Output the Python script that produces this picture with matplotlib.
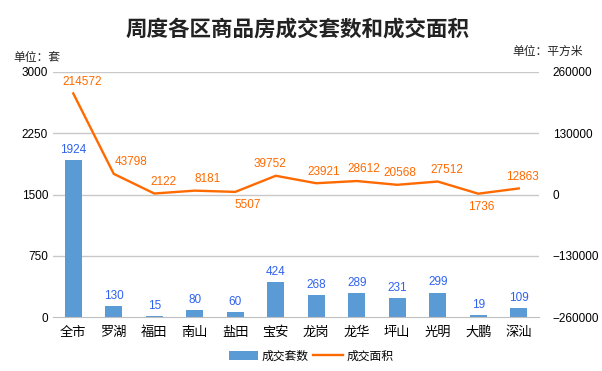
import matplotlib
matplotlib.use("Agg")
import matplotlib.pyplot as plt
import numpy as np

plt.rcParams['font.family'] = ['Liberation Sans', 'Noto Sans CJK SC', 'DejaVu Sans']

categories = ["全市", "罗湖", "福田", "南山", "盐田", "宝安", "龙岗", "龙华", "坪山", "光明", "大鹏", "深汕"]
units = [1924, 130, 15, 80, 60, 424, 268, 289, 231, 299, 19, 109]
area = [214572, 43798, 2122, 8181, 5507, 39752, 23921, 28612, 20568, 27512, 1736, 12863]
left_ticks = [0, 750, 1500, 2250, 3000]
right_ticks = [-260000, -130000, 0, 130000, 260000]

# label placement (styling): horizontal nudge in pixels, and whether label sits below the point
label_dx_px = [9, 17, 9, 13, 12, -6, 7, 7, 3, 9, 3, 4]
label_below = [False, False, False, False, True, False, False, False, False, False, True, False]

fig = plt.figure(figsize=(6.02, 3.71), dpi=100)
ax = fig.add_axes([53/602, 1-317/371, 486/602, 245/371])
x = np.arange(len(categories))
bar_color = "#5B9BD5"
line_color = "#FF6A00"

ax.bar(x, units, width=0.42, color=bar_color, zorder=2, label="成交套数")
ax.set_ylim(0, 3000)
ax.set_xlim(-0.5, len(categories) - 0.5)
ax.set_yticks(left_ticks)
ax.set_xticks(x)
ax.set_xticklabels(categories, fontsize=9.5, family=['Noto Sans CJK SC'])
ax.tick_params(axis='both', length=0, labelsize=8.5)
ax.tick_params(axis='x', pad=6.5, labelsize=9.5)
for t in left_ticks[1:]:
    ax.axhline(t, color="#C8C8C8", lw=1, zorder=0)
for s in ["top", "right", "left"]:
    ax.spines[s].set_visible(False)
ax.spines["bottom"].set_color("#BFBFBF")

for xi, v in zip(x, units):
    ax.annotate(str(v), (xi, v), xytext=(0, 3), textcoords="offset points",
                ha="center", va="bottom", fontsize=8.5, color="#2F62F0")

ax2 = ax.twinx()
ax2.plot(x, area, color=line_color, lw=1.7, zorder=3, label="成交面积")
ax2.set_ylim(-260000, 260000)
ax2.set_yticks(right_ticks)
ax2.tick_params(axis='y', length=0, labelsize=8.5, pad=10)
for s in ["top", "right", "left", "bottom"]:
    ax2.spines[s].set_visible(False)
for xi, v, b, dx in zip(x, area, label_below, label_dx_px):
    dxp = dx * 0.72
    if b:
        ax2.annotate(str(v), (xi, v), xytext=(dxp, -5), textcoords="offset points",
                     ha="center", va="top", fontsize=8.5, color=line_color)
    else:
        ax2.annotate(str(v), (xi, v), xytext=(dxp, 4), textcoords="offset points",
                     ha="center", va="bottom", fontsize=8.5, color=line_color)

fig.text(298/602, 1-29/371, "周度各区商品房成交套数和成交面积", ha="center", va="center",
         fontsize=15.5, fontweight="bold", color="#222222", family=['Noto Sans CJK SC'])
fig.text(13/602, 1-57/371, "单位：套", ha="left", va="center", fontsize=8.5, color="#222222",
         family=['Noto Sans CJK SC'])
fig.text(583/602, 1-51/371, "单位：平方米", ha="right", va="center", fontsize=8.5, color="#222222",
         family=['Noto Sans CJK SC'])

h1, l1 = ax.get_legend_handles_labels()
h2, l2 = ax2.get_legend_handles_labels()
fig.legend(h1 + h2, l1 + l2, loc="center", bbox_to_anchor=(311/602, 1-356/371), ncol=2,
           frameon=False, prop={'family': 'Noto Sans CJK SC', 'size': 8.5},
           handlelength=2.5, columnspacing=0.4, handletextpad=0.3)

fig.savefig("out.png", dpi=100, facecolor="white")
